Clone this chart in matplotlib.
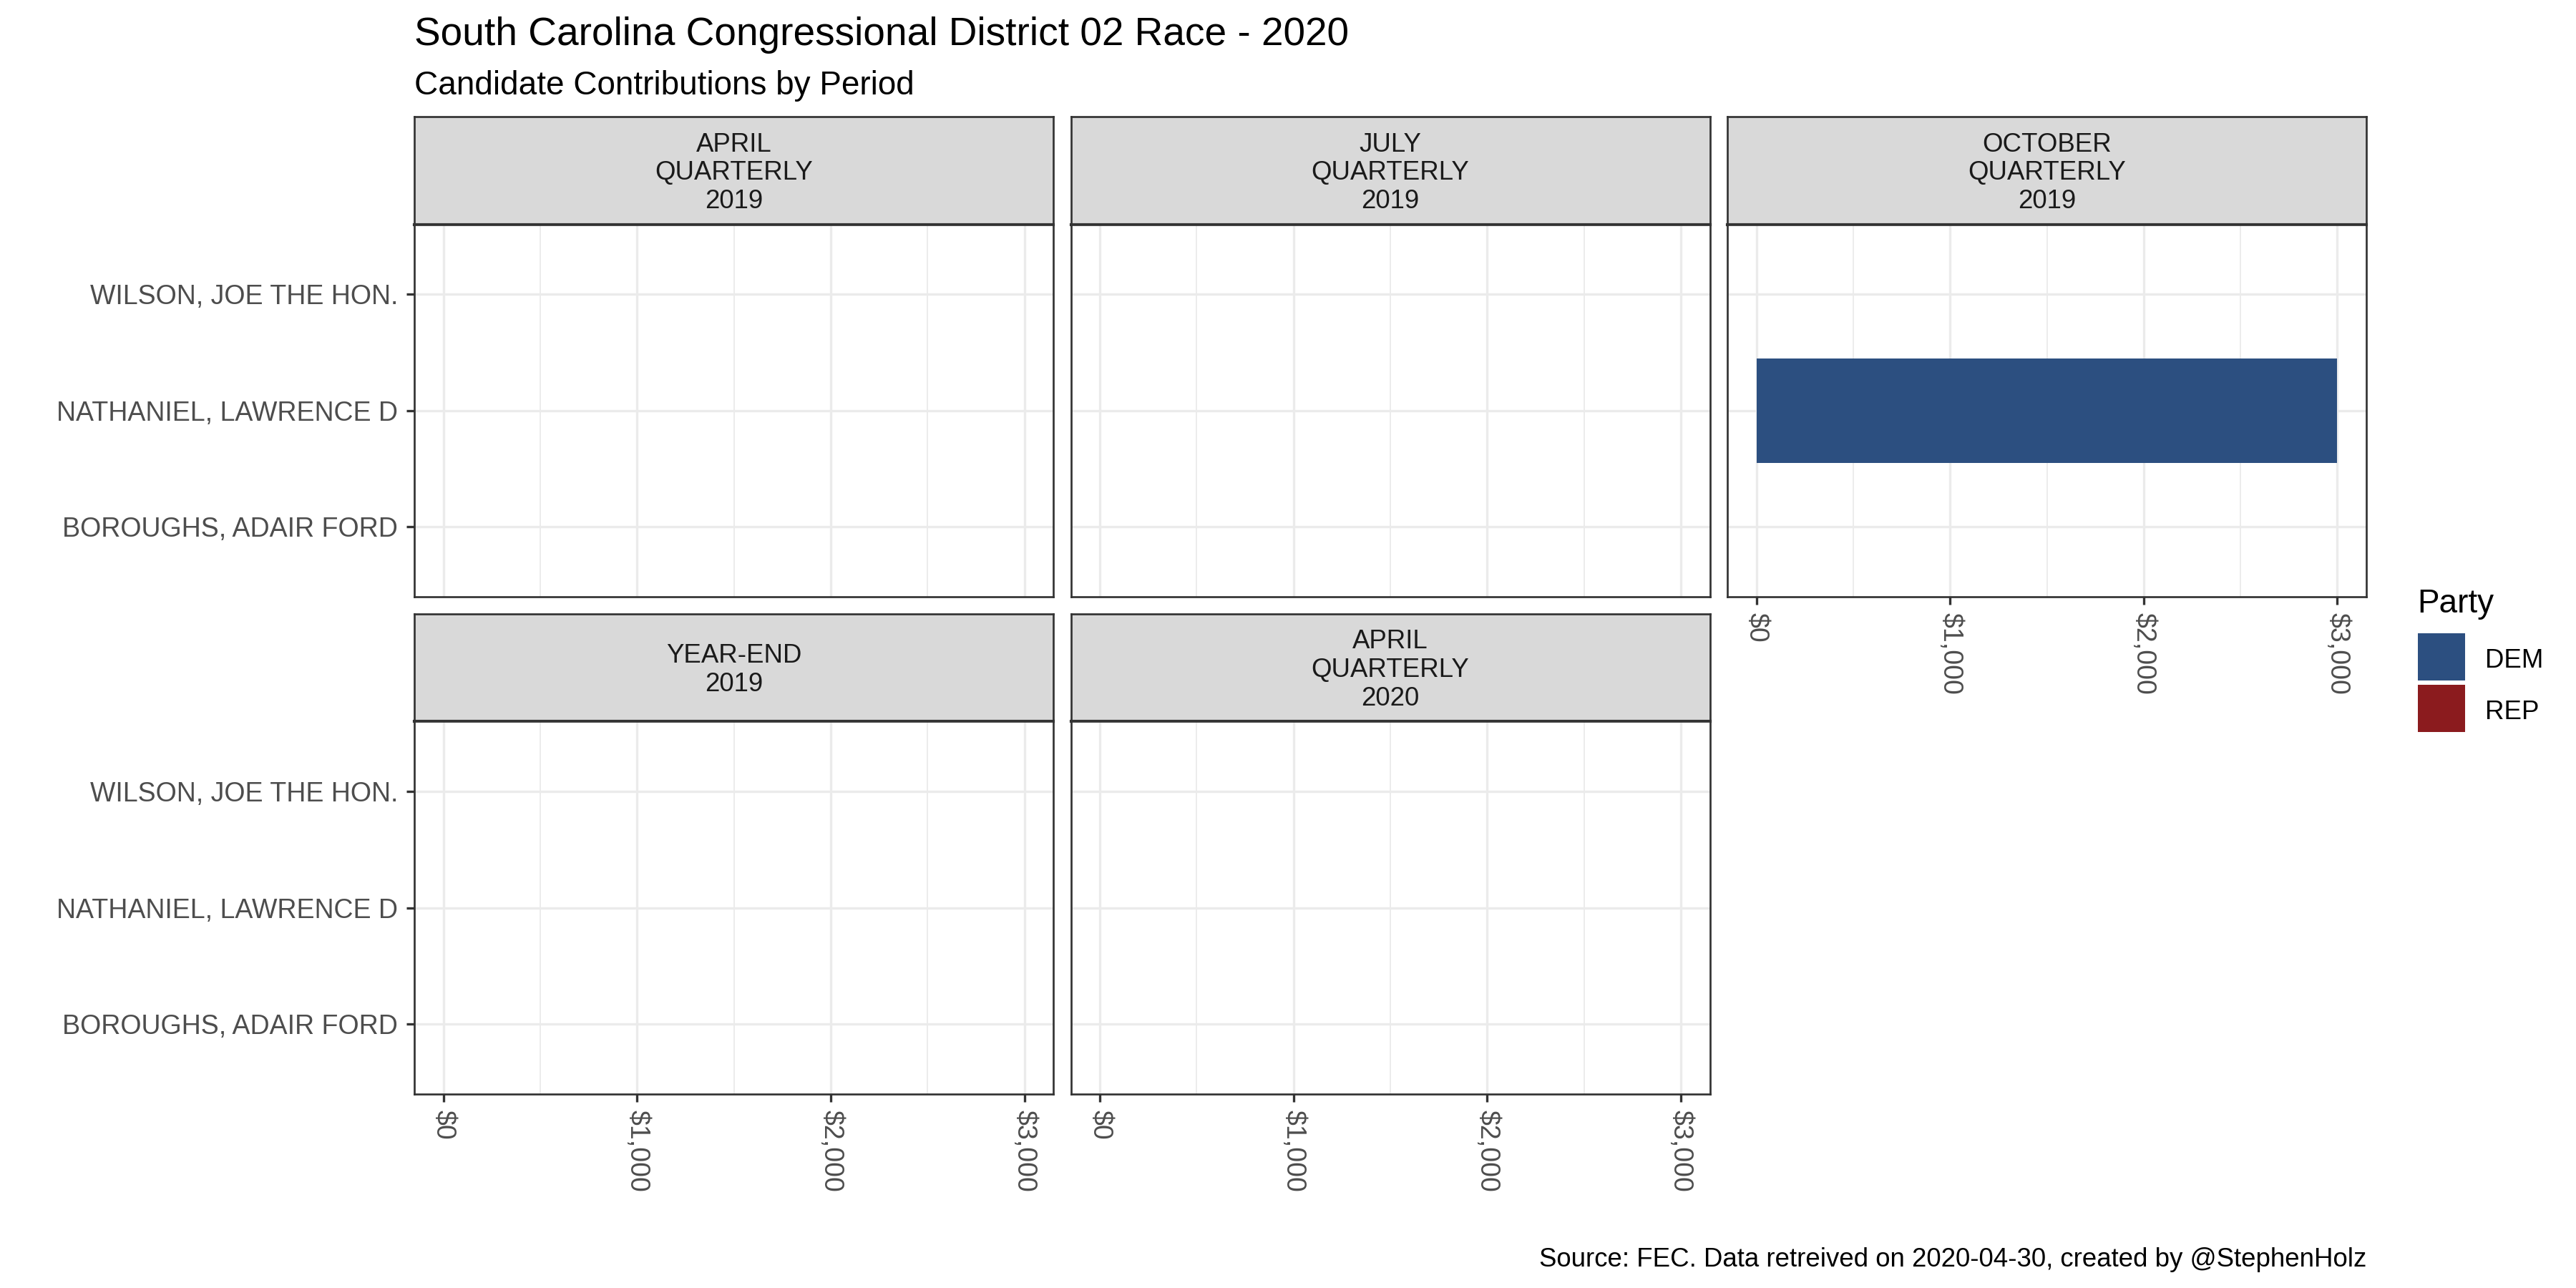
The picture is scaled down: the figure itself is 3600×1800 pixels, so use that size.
import numpy as np
import matplotlib
matplotlib.use("Agg")
import matplotlib.pyplot as plt
from matplotlib.ticker import MultipleLocator, FixedLocator, NullLocator, FuncFormatter
from matplotlib.patches import Rectangle

plt.rcParams['font.family'] = ['Liberation Sans', 'DejaVu Sans']

# ---- data ----
periods = ["APRIL\nQUARTERLY\n2019", "JULY\nQUARTERLY\n2019", "OCTOBER\nQUARTERLY\n2019",
           "YEAR-END\n2019", "APRIL\nQUARTERLY\n2020"]
candidates = ["BOROUGHS, ADAIR FORD", "NATHANIEL, LAWRENCE D", "WILSON, JOE THE HON."]
cand_party = ["DEM", "DEM", "REP"]
# contributions per period (rows) and candidate (cols)
amounts = [
    [0, 0, 0],
    [0, 0, 0],
    [0, 3000, 0],
    [0, 0, 0],
    [0, 0, 0],
]
parties = ["DEM", "REP"]
party_colors = {"DEM": "#2C4F80", "REP": "#8B1B1E"}

title = "South Carolina Congressional District 02 Race - 2020"
subtitle = "Candidate Contributions by Period"
caption = "Source: FEC. Data retreived on 2020-04-30, created by @StephenHolz"

# ---- layout (pixels on a 3600x1800 canvas) ----
W, H = 3600, 1800
fig = plt.figure(figsize=(12, 6), dpi=300)


def fx(px):
    return px / W


def fy(py):
    return 1 - py / H


col_left = [579.3, 1496.6, 2414.0]
panel_w = 893.0
strip_top = [163.3, 858.0]
strip_h = 150.4
panel_h = 520.3
line_w = 0.65
grey20 = "#333333"
axis_fs = 9.0

xmax = max(max(r) for r in amounts)
fmt = FuncFormatter(lambda v, p: "${:,.0f}".format(v))

for i, period in enumerate(periods):
    row, col = divmod(i, 3)
    left = col_left[col]
    st = strip_top[row]
    pt = st + strip_h

    # strip
    sax = fig.add_axes([fx(left), fy(pt), fx(panel_w), strip_h / H])
    sax.set_facecolor("#D9D9D9")
    sax.set_xticks([])
    sax.set_yticks([])
    for name, sp in sax.spines.items():
        sp.set_color(grey20)
        sp.set_linewidth(1.0 if name == "bottom" else line_w)
    lines = period.split("\n")
    n = len(lines)
    center = st + strip_h / 2
    for k, ln in enumerate(lines):
        base = center + 13 + (k - (n - 1) / 2) * 39.7
        fig.text(fx(left + panel_w / 2), fy(base), ln, ha="center", va="baseline",
                 fontsize=8.8, color="#1A1A1A")

    # panel
    ax = fig.add_axes([fx(left), fy(pt + panel_h), fx(panel_w), panel_h / H])
    ypos = np.arange(1, len(candidates) + 1)
    vals = amounts[i]
    cols = [party_colors[p] for p in cand_party]
    ax.barh(ypos, vals, height=0.9, color=cols, linewidth=0, zorder=3)
    ax.set_xlim(-0.05 * xmax, 1.05 * xmax)
    ax.set_ylim(0.4, len(candidates) + 0.6)
    ax.xaxis.set_major_locator(FixedLocator([0, 1000, 2000, 3000]))
    ax.xaxis.set_minor_locator(MultipleLocator(500))
    ax.yaxis.set_major_locator(FixedLocator(ypos))
    ax.yaxis.set_minor_locator(NullLocator())
    ax.xaxis.set_major_formatter(fmt)
    ax.set_yticklabels(candidates)
    ax.set_axisbelow(True)
    ax.grid(which="major", color="#EBEBEB", linewidth=0.8)
    ax.grid(which="minor", axis="x", color="#EBEBEB", linewidth=0.45)
    for sp in ax.spines.values():
        sp.set_color(grey20)
        sp.set_linewidth(line_w)
        sp.set_zorder(5)

    show_x = (row == 1) or (col == 2)
    show_y = (col == 0)
    ax.tick_params(axis="x", which="major", length=2.75 if show_x else 0, width=0.8,
                   color=grey20, labelbottom=show_x, labelsize=axis_fs,
                   labelcolor="#4D4D4D", pad=2.6, labelrotation=270)
    ax.tick_params(axis="x", which="minor", length=0)
    ax.tick_params(axis="y", which="major", length=2.75 if show_y else 0, width=0.8,
                   color=grey20, labelleft=show_y, labelsize=axis_fs,
                   labelcolor="#4D4D4D", pad=2.8)
    for lbl in ax.get_xticklabels():
        lbl.set_va("top")
        lbl.set_ha("center")

# titles
fig.text(fx(579.3), fy(63), title, ha="left", va="baseline", fontsize=13.2, color="black")
fig.text(fx(579.3), fy(132), subtitle, ha="left", va="baseline", fontsize=11, color="black")
fig.text(fx(3307), fy(1770), caption, ha="right", va="baseline", fontsize=8.8, color="black")

# legend
fig.text(fx(3378), fy(856), "Party", ha="left", va="baseline", fontsize=11, color="black")
key_tops = [885, 957]
for p, kt in zip(parties, key_tops):
    fig.patches.append(Rectangle((fx(3379), fy(kt + 66)), fx(66), 66 / H,
                                 transform=fig.transFigure, facecolor=party_colors[p],
                                 edgecolor="none"))
    fig.text(fx(3472.7), fy(kt + 47.7), p, ha="left", va="baseline", fontsize=8.8,
             color="black")

fig.savefig("out.png", dpi=300, facecolor="white")
